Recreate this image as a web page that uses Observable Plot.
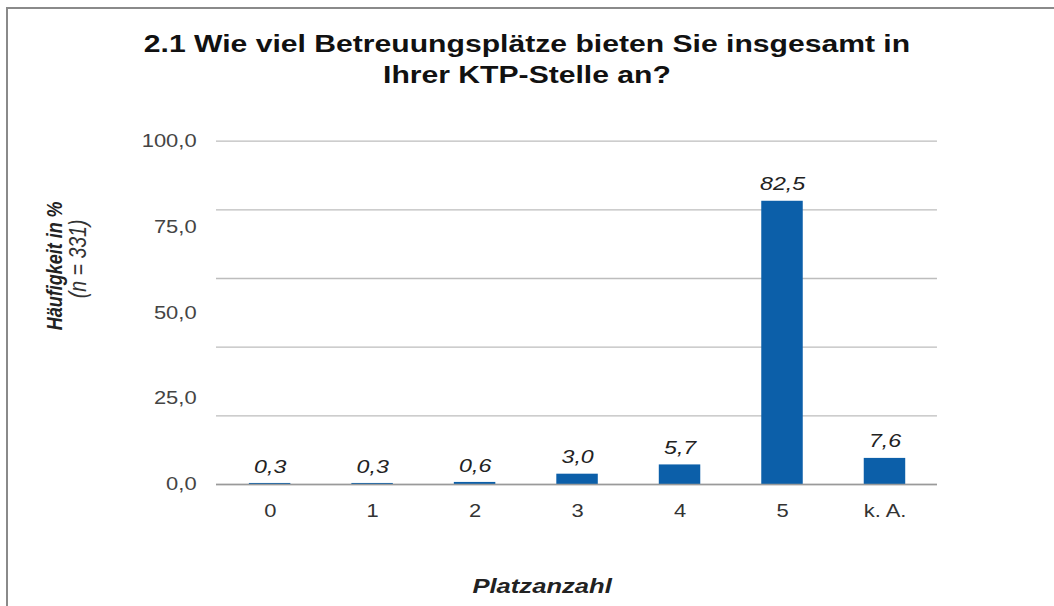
<!DOCTYPE html>
<html>
<head>
<meta charset="utf-8">
<script src="https://cdn.jsdelivr.net/npm/d3@7"></script>
<script src="https://cdn.jsdelivr.net/npm/@observablehq/plot@0.6"></script>
<style>
  html, body { margin: 0; padding: 0; background: #fff; }
  #frame { position: relative; width: 1054px; height: 606px; overflow: hidden; background: #fff;
           font-family: "Liberation Sans", Arial, sans-serif; }
  #topline { position: absolute; left: 6px; top: 7px; width: 1048px; height: 2px; background: #8a8a8a; }
  #leftline { position: absolute; left: 6px; top: 7px; width: 2px; height: 600px; background: #8a8a8a; }
  #stretch { position: absolute; left: 0; top: 0; height: 606px; transform-origin: 0 0; }
  #title { position: absolute; left: 0; top: 24px; width: 100%; height: 86px; text-align: center;
           font-weight: bold; font-size: 24.7px; line-height: 31px; color: #111; }
  #title div { position: absolute; left: 0; width: 100%; }
  #chart { position: absolute; left: 0; top: 110px; }
</style>
</head>
<body>
<div id="frame">
  <div id="stretch">
    <div id="title"><div style="top:4px">2.1 Wie viel Betreuungsplätze bieten Sie insgesamt in</div><div style="top:35px">Ihrer KTP-Stelle an?</div></div>
    <div id="chart"></div>
  </div>
  <div id="topline"></div>
  <div id="leftline"></div>
</div>
<script>
const categories = ["0", "1", "2", "3", "4", "5", "k. A."];
const values = [0.3, 0.3, 0.6, 3.0, 5.7, 82.5, 7.6];
const yTickValues = [0, 25, 50, 75, 100];
const gridValues = [0, 20, 40, 60, 80, 100];
const yLabel = "Häufigkeit in %";
const ySubLabel = "(n = 331)";
const xLabel = "Platzanzahl";

const s = 1.22; // horizontal stretch of the original picture
const W = 1054 / s;
const stretch = document.getElementById("stretch");
stretch.style.width = W + "px";
stretch.style.transform = `scaleX(${s})`;

const data = categories.map((c, i) => ({category: c, value: values[i]}));
const fmt = v => v.toFixed(1).replace(".", ",");

const plot = Plot.plot({
  width: W,
  height: 496,
  marginLeft: 216 / s,
  marginRight: (1054 - 937) / s,
  marginTop: 30.7,
  marginBottom: 122,
  style: {fontFamily: "'Liberation Sans', Arial, sans-serif", background: "transparent"},
  x: {domain: categories, paddingInner: 0.6, paddingOuter: 0.3, label: null},
  y: {domain: [0, 100], label: null},
  marks: [
    Plot.gridY(gridValues, {stroke: "#bdbdbd", strokeOpacity: 1, strokeWidth: 1.3}),
    Plot.barY(data, {x: "category", y: "value", fill: "#0c5fa9"}),
    Plot.ruleY([0], {stroke: "#9a9a9a", strokeWidth: 1.5}),
    Plot.text(data, {x: "category", y: "value", text: d => fmt(d.value), dy: -17,
      fontSize: 19, fontStyle: "italic", fill: "#222"}),
    Plot.axisY(yTickValues, {tickSize: 0, tickPadding: 20 / s, tickFormat: fmt, fontSize: 18, fill: "#444"}),
    Plot.axisX({tickSize: 0, tickPadding: 20, fontSize: 18, fill: "#333"}),
    Plot.text([xLabel], {frameAnchor: "bottom", dx: -35 / s, dy: 109, fontSize: 21,
      fontWeight: "bold", fontStyle: "italic", fill: "#222"}),
    Plot.text([yLabel], {frameAnchor: "left", textAnchor: "middle", rotate: -90, dx: -162 / s, dy: -47, fontSize: 18,
      fontWeight: "bold", fontStyle: "italic", fill: "#222"}),
    Plot.text([ySubLabel], {frameAnchor: "left", textAnchor: "middle", rotate: -90, dx: -138 / s, dy: -54, fontSize: 19.5,
      fontStyle: "italic", fill: "#333"})
  ]
});
document.getElementById("chart").appendChild(plot);
</script>
</body>
</html>
